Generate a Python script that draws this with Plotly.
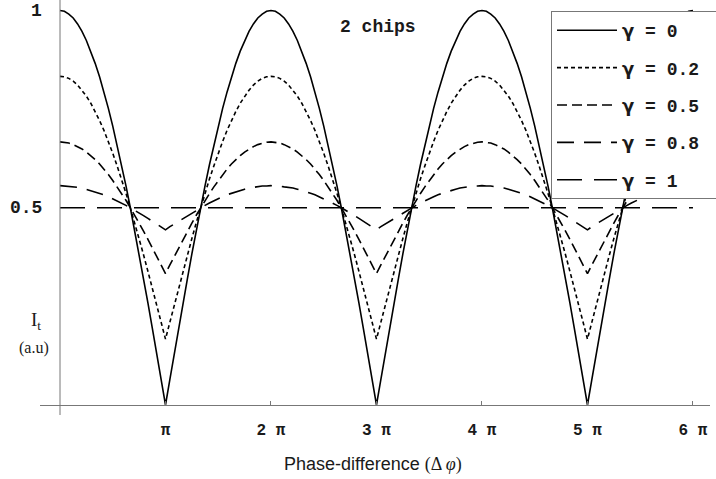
import numpy as np
import plotly.graph_objects as go

x_steps = 145
x_vals = [k * np.pi / 24 for k in range(x_steps)]

gamma_0 = [
    1.000, 0.998, 0.991, 0.981, 0.966, 0.947, 0.924, 0.897, 0.866, 0.832, 0.793, 0.752, 0.707, 0.659, 0.609, 0.556, 0.500, 0.442, 0.383, 0.321, 0.259, 0.195, 0.131, 0.065, 0.000,
    0.065, 0.131, 0.195, 0.259, 0.321, 0.383, 0.442, 0.500, 0.556, 0.609, 0.659, 0.707, 0.752, 0.793, 0.832, 0.866, 0.897, 0.924, 0.947, 0.966, 0.981, 0.991, 0.998,
    1.000, 0.998, 0.991, 0.981, 0.966, 0.947, 0.924, 0.897, 0.866, 0.832, 0.793, 0.752, 0.707, 0.659, 0.609, 0.556, 0.500, 0.442, 0.383, 0.321, 0.259, 0.195, 0.131, 0.065, 0.000,
    0.065, 0.131, 0.195, 0.259, 0.321, 0.383, 0.442, 0.500, 0.556, 0.609, 0.659, 0.707, 0.752, 0.793, 0.832, 0.866, 0.897, 0.924, 0.947, 0.966, 0.981, 0.991, 0.998,
    1.000, 0.998, 0.991, 0.981, 0.966, 0.947, 0.924, 0.897, 0.866, 0.832, 0.793, 0.752, 0.707, 0.659, 0.609, 0.556, 0.500, 0.442, 0.383, 0.321, 0.259, 0.195, 0.131, 0.065, 0.000,
    0.065, 0.131, 0.195, 0.259, 0.321, 0.383, 0.442, 0.500, 0.556, 0.609, 0.659, 0.707, 0.752, 0.793, 0.832, 0.866, 0.897, 0.924, 0.947, 0.966, 0.981, 0.991, 0.998,
    1.000]
gamma_02 = [
    0.833, 0.832, 0.828, 0.821, 0.811, 0.798, 0.783, 0.765, 0.744, 0.721, 0.696, 0.668, 0.638, 0.606, 0.573, 0.537, 0.500, 0.462, 0.422, 0.381, 0.339, 0.297, 0.254, 0.210, 0.167,
    0.210, 0.254, 0.297, 0.339, 0.381, 0.422, 0.462, 0.500, 0.537, 0.573, 0.606, 0.638, 0.668, 0.696, 0.721, 0.744, 0.765, 0.783, 0.798, 0.811, 0.821, 0.828, 0.832,
    0.833, 0.832, 0.828, 0.821, 0.811, 0.798, 0.783, 0.765, 0.744, 0.721, 0.696, 0.668, 0.638, 0.606, 0.573, 0.537, 0.500, 0.462, 0.422, 0.381, 0.339, 0.297, 0.254, 0.210, 0.167,
    0.210, 0.254, 0.297, 0.339, 0.381, 0.422, 0.462, 0.500, 0.537, 0.573, 0.606, 0.638, 0.668, 0.696, 0.721, 0.744, 0.765, 0.783, 0.798, 0.811, 0.821, 0.828, 0.832,
    0.833, 0.832, 0.828, 0.821, 0.811, 0.798, 0.783, 0.765, 0.744, 0.721, 0.696, 0.668, 0.638, 0.606, 0.573, 0.537, 0.500, 0.462, 0.422, 0.381, 0.339, 0.297, 0.254, 0.210, 0.167,
    0.210, 0.254, 0.297, 0.339, 0.381, 0.422, 0.462, 0.500, 0.537, 0.573, 0.606, 0.638, 0.668, 0.696, 0.721, 0.744, 0.765, 0.783, 0.798, 0.811, 0.821, 0.828, 0.832,
    0.833]
gamma_05 = [
    0.667, 0.666, 0.664, 0.660, 0.655, 0.649, 0.641, 0.632, 0.622, 0.611, 0.598, 0.584, 0.569, 0.553, 0.536, 0.519, 0.500, 0.481, 0.461, 0.441, 0.420, 0.398, 0.377, 0.355, 0.333,
    0.355, 0.377, 0.398, 0.420, 0.441, 0.461, 0.481, 0.500, 0.519, 0.536, 0.553, 0.569, 0.584, 0.598, 0.611, 0.622, 0.632, 0.641, 0.649, 0.655, 0.660, 0.664, 0.666,
    0.667, 0.666, 0.664, 0.660, 0.655, 0.649, 0.641, 0.632, 0.622, 0.611, 0.598, 0.584, 0.569, 0.553, 0.536, 0.519, 0.500, 0.481, 0.461, 0.441, 0.420, 0.398, 0.377, 0.355, 0.333,
    0.355, 0.377, 0.398, 0.420, 0.441, 0.461, 0.481, 0.500, 0.519, 0.536, 0.553, 0.569, 0.584, 0.598, 0.611, 0.622, 0.632, 0.641, 0.649, 0.655, 0.660, 0.664, 0.666,
    0.667, 0.666, 0.664, 0.660, 0.655, 0.649, 0.641, 0.632, 0.622, 0.611, 0.598, 0.584, 0.569, 0.553, 0.536, 0.519, 0.500, 0.481, 0.461, 0.441, 0.420, 0.398, 0.377, 0.355, 0.333,
    0.355, 0.377, 0.398, 0.420, 0.441, 0.461, 0.481, 0.500, 0.519, 0.536, 0.553, 0.569, 0.584, 0.598, 0.611, 0.622, 0.632, 0.641, 0.649, 0.655, 0.660, 0.664, 0.666,
    0.667]
gamma_08 = [
    0.556, 0.555, 0.555, 0.553, 0.552, 0.550, 0.547, 0.544, 0.541, 0.537, 0.533, 0.528, 0.523, 0.518, 0.512, 0.506, 0.500, 0.494, 0.487, 0.480, 0.473, 0.466, 0.459, 0.452, 0.444,
    0.452, 0.459, 0.466, 0.473, 0.480, 0.487, 0.494, 0.500, 0.506, 0.512, 0.518, 0.523, 0.528, 0.533, 0.537, 0.541, 0.544, 0.547, 0.550, 0.552, 0.553, 0.555, 0.555,
    0.556, 0.555, 0.555, 0.553, 0.552, 0.550, 0.547, 0.544, 0.541, 0.537, 0.533, 0.528, 0.523, 0.518, 0.512, 0.506, 0.500, 0.494, 0.487, 0.480, 0.473, 0.466, 0.459, 0.452, 0.444,
    0.452, 0.459, 0.466, 0.473, 0.480, 0.487, 0.494, 0.500, 0.506, 0.512, 0.518, 0.523, 0.528, 0.533, 0.537, 0.541, 0.544, 0.547, 0.550, 0.552, 0.553, 0.555, 0.555,
    0.556, 0.555, 0.555, 0.553, 0.552, 0.550, 0.547, 0.544, 0.541, 0.537, 0.533, 0.528, 0.523, 0.518, 0.512, 0.506, 0.500, 0.494, 0.487, 0.480, 0.473, 0.466, 0.459, 0.452, 0.444,
    0.452, 0.459, 0.466, 0.473, 0.480, 0.487, 0.494, 0.500, 0.506, 0.512, 0.518, 0.523, 0.528, 0.533, 0.537, 0.541, 0.544, 0.547, 0.550, 0.552, 0.553, 0.555, 0.555,
    0.556]
gamma_1 = [0.500] * x_steps

gamma_labels = ["0", "0.2", "0.5", "0.8", "1"]
series_values = [gamma_0, gamma_02, gamma_05, gamma_08, gamma_1]

tick_vals = [np.pi * k for k in range(1, 7)]
tick_text = ["π", "2 π", "3 π", "4 π", "5 π", "6 π"]
y_tick_vals = [1, 0.5]
y_tick_text = ["1", "0.5"]

# ---- styling ----
dashes = ["solid", "4px,3px", "10px,5px", "17px,10px", "25px,12px"]
mono = "Liberation Mono, Courier New, monospace"
ink = "#1a1a1a"

W, H = 716, 479
ML, MR, MT, MB = 40, 6, 0, 74
PW, PH = W - ML - MR, H - MT - MB
px_per_rad = 33.58
x_min = -20 / px_per_rad
x_max = x_min + PW / px_per_rad
y_px_per_unit = 394.5
y_max = PH / y_px_per_unit


def px_x(p):
    return (p - ML) / PW


def px_y(p):
    return 1 - (p - MT) / PH


fig = go.Figure()
for i, (lab, vals) in enumerate(zip(gamma_labels, series_values)):
    name = ("<b><span style='font-family:DejaVu Sans'>γ</span> = " + lab + "</b>"
            + "\u00a0" * 5)
    fig.add_trace(go.Scatter(
        x=x_vals, y=vals, mode="lines", name=name,
        legendgroup=str(i),
        line=dict(color="black", width=1.6, dash=dashes[i]),
    ))

# y-axis line at x = 0 (extends slightly below the x axis)
fig.add_shape(type="line", xref="paper", yref="paper",
              x0=px_x(60), x1=px_x(60), y0=px_y(415), y1=1,
              line=dict(color="#777", width=1))

annotations = []
for v, t in zip(y_tick_vals, y_tick_text):
    annotations.append(dict(x=0, y=v, xref="x", yref="y", text="<b>" + t + "</b>",
                            showarrow=False, xanchor="right", yanchor="middle", xshift=-16,
                            font=dict(family=mono, size=18, color=ink)))
annotations.append(dict(x=px_x(378), y=px_y(27), xref="paper", yref="paper",
                        text="<b>2 chips</b>", showarrow=False,
                        xanchor="center", yanchor="middle",
                        font=dict(family=mono, size=18, color=ink)))
annotations.append(dict(x=px_x(36), y=px_y(321), xref="paper", yref="paper",
                        text="I<sub>t</sub>", showarrow=False,
                        xanchor="center", yanchor="middle",
                        font=dict(family="Liberation Serif, serif", size=19, color=ink)))
annotations.append(dict(x=px_x(34), y=px_y(348), xref="paper", yref="paper",
                        text="(a.u)", showarrow=False,
                        xanchor="center", yanchor="middle",
                        font=dict(family="Liberation Serif, serif", size=16, color=ink)))
annotations.append(dict(x=px_x(373), y=px_y(464), xref="paper", yref="paper",
                        text="Phase-difference <span style='font-family:Liberation Serif'>(Δ <i>φ</i>)</span>",
                        showarrow=False, xanchor="center", yanchor="middle",
                        font=dict(family="Liberation Sans, Arial, sans-serif", size=18, color=ink)))

fig.update_layout(
    width=W, height=H,
    margin=dict(l=ML, r=MR, t=MT, b=MB, autoexpand=False),
    paper_bgcolor="white", plot_bgcolor="white",
    xaxis=dict(range=[x_min, x_max], showgrid=False, zeroline=False,
               showline=True, linecolor="#777", linewidth=1,
               tickvals=tick_vals, ticktext=["<b>" + t + "</b>" for t in tick_text],
               ticks="inside", ticklen=4, tickcolor="#777",
               ticklabelstandoff=10,
               tickfont=dict(family=mono, size=16, color=ink)),
    yaxis=dict(range=[0, y_max], showgrid=False, zeroline=False, showline=False,
               showticklabels=False, ticks=""),
    legend=dict(x=px_x(551), y=px_y(11),
                xanchor="left", yanchor="top", bgcolor="white",
                bordercolor="#777", borderwidth=1, tracegroupgap=11,
                itemwidth=60,
                font=dict(family=mono, size=18, color=ink)),
    annotations=annotations,
    showlegend=True,
)

fig.write_html("out.html")
